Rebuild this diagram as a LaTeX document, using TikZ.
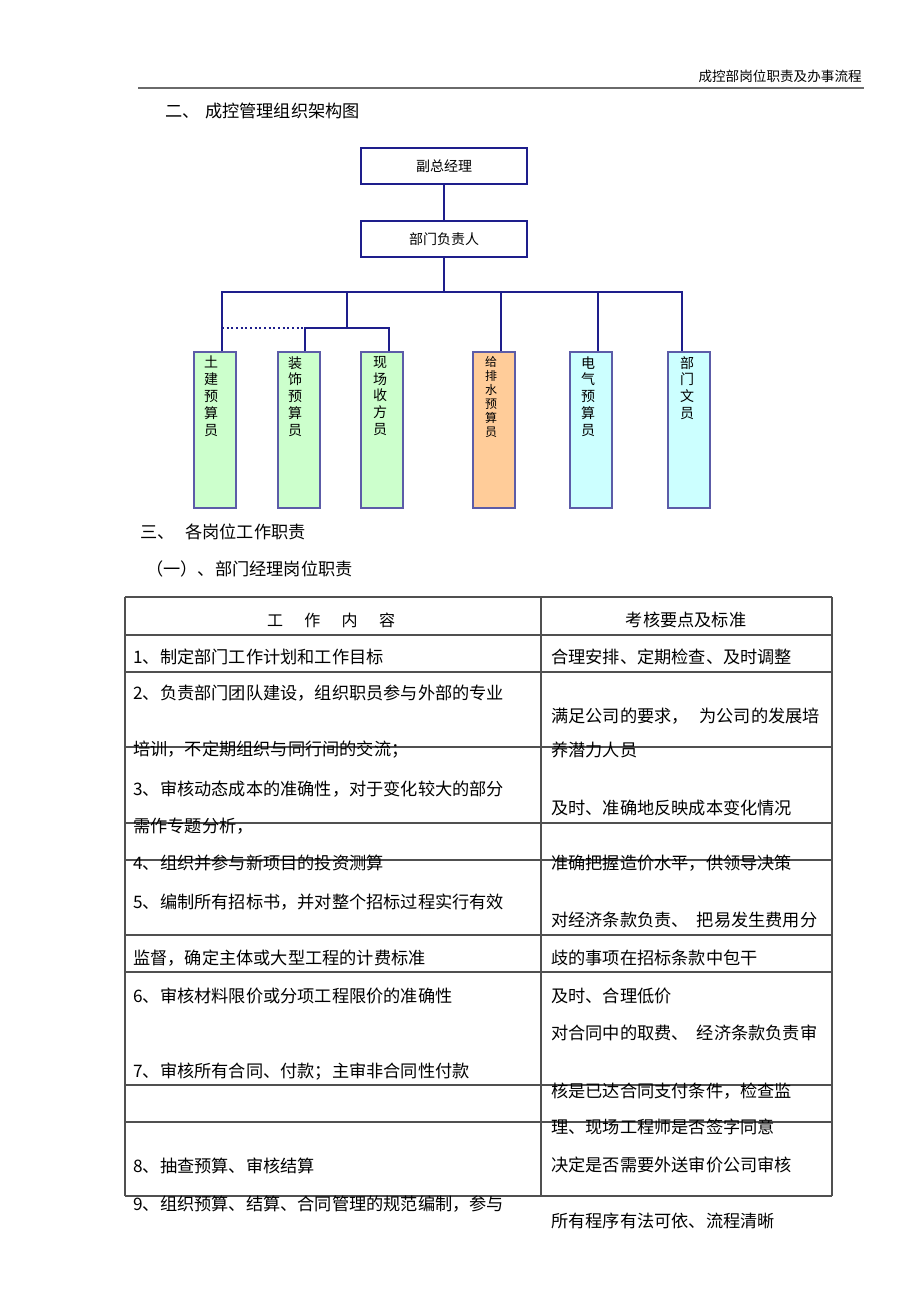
\documentclass[tikz,border=0pt]{standalone}
\usepackage{fontspec}
\setmainfont{Noto Sans CJK SC}
\definecolor{navy}{HTML}{1E1E8C}
\definecolor{boxb}{HTML}{5C5CA8}
\definecolor{gfill}{HTML}{CCFFCC}
\definecolor{ofill}{HTML}{FFCC99}
\definecolor{cfill}{HTML}{CCFFFF}
\definecolor{tline}{HTML}{505050}
\definecolor{rulec}{HTML}{6A6A6A}
\tikzset{
  topbox/.style={draw=navy, line width=2pt, minimum width=124.5pt, minimum height=27pt, inner sep=0pt, font=\fontsize{10.5}{12}\selectfont},
  staff/.style={draw=boxb, line width=0.9pt, minimum width=31.5pt, minimum height=117pt, inner sep=0pt},
  stafftext/.style={anchor=north, align=center, inner sep=0pt, font=\fontsize{10.5}{12.6}\selectfont},
  conn/.style={draw=navy, line width=1.5pt},
  tl/.style={draw=tline, line width=0.9pt},
  cell/.style={anchor=west, inner sep=0pt, font=\fontsize{12.9}{14}\selectfont},
  heading/.style={anchor=west, inner sep=0pt, font=\fontsize{12.9}{14}\selectfont},
}
\begin{document}
\begin{tikzpicture}[x=0.75pt,y=-0.75pt]
\useasboundingbox[fill=white] (0,0) rectangle (920,1303);
% page header
\node[anchor=east, inner sep=0pt, font=\fontsize{10.2}{12}\selectfont] (hdr) at (862,76) {成控部岗位职责及办事流程};
\draw[draw=rulec, line width=1.3pt] (138,88) -- (864,88);
\node[heading] (sec2) at (165,111) {二、\hspace{4pt}成控管理组织架构图};

% org chart boxes
\node[topbox] (vp) at (444,166) {副总经理};
\node[topbox] (head) at (444,239) {部门负责人};

\node[staff, fill=gfill] (tj) at (215,430) {};
\node[staff, fill=gfill] (zs) at (299,430) {};
\node[staff, fill=gfill] (xc) at (382,430) {};
\node[staff, fill=ofill] (gp) at (494,430) {};
\node[staff, fill=cfill] (dq) at (591,430) {};
\node[staff, fill=cfill] (wy) at (689,430) {};

\node[stafftext] (tjt) at (211,356) {土\\建\\预\\算\\员};
\node[stafftext] (zst) at (295,356) {装\\饰\\预\\算\\员};
\node[stafftext] (xct) at (380,356) {现\\场\\收\\方\\员};
\node[stafftext, font=\fontsize{9}{10.5}\selectfont] (gpt) at (491,356) {给\\排\\水\\预\\算\\员};
\node[stafftext] (dqt) at (588,356) {电\\气\\预\\算\\员};
\node[stafftext] (wyt) at (687,356) {部\\门\\文\\员};

% connectors
\coordinate (bL) at (222,292);
\coordinate (bR) at (682,292);
\coordinate (sj) at (347,292);
\coordinate (sk) at (347,328);
\coordinate (sL) at (305,328);
\coordinate (sR) at (389,328);
\coordinate (gj) at (501,292);
\coordinate (dj) at (598,292);
\draw[conn] (vp.south) -- (head.north);
\draw[conn] (head.south) -- (head.south |- bL);
\draw[conn] (tj.north -| bL) -- (bL) -- (bR) -- (wy.north -| bR);
\draw[conn] (sj) -- (sk);
\draw[conn] (zs.north -| sL) -- (sL) -- (sR) -- (xc.north -| sR);
\draw[conn, dotted] (bL |- sL) -- (sL);
\draw[conn] (gj) -- (gp.north -| gj);
\draw[conn] (dj) -- (dq.north -| dj);

% section headings
\node[heading] (sec3) at (140,532) {三、\hspace{8pt}各岗位工作职责};
\node[heading] (sec31) at (146,569) {（一）、部门经理岗位职责};

% table grid
\draw[tl] (125,597) -- (125,1196);
\draw[tl] (541,597) -- (541,1196);
\draw[tl] (832,597) -- (832,1196);
\foreach \yy in {597,635,672,747,823,860,935,972,1085,1122,1196}
  \draw[tl] (125,\yy) -- (832,\yy);

% table header
\node[inner sep=0pt, font=\fontsize{12}{14}\selectfont] (h1) at (331,620) {工\hspace{16pt}作\hspace{16pt}内\hspace{16pt}容};
\node[inner sep=0pt, font=\fontsize{12.9}{14}\selectfont] (h2) at (686,620) {考核要点及标准};

% left column
\node[cell] (l1) at (133,657) {1、制定部门工作计划和工作目标};
\node[cell] (l2) at (133,693) {2、负责部门团队建设，组织职员参与外部的专业};
\node[cell] (l2b) at (133,750) {培训，不定期组织与同行间的交流；};
\node[cell] (l3) at (133,789) {3、审核动态成本的准确性，对于变化较大的部分};
\node[cell] (l3b) at (133,826) {需作专题分析，};
\node[cell] (l4) at (133,863) {4、组织并参与新项目的投资测算};
\node[cell] (l5) at (133,902) {5、编制所有招标书，并对整个招标过程实行有效};
\node[cell] (l5b) at (133,958) {监督，确定主体或大型工程的计费标准};
\node[cell] (l6) at (133,996) {6、审核材料限价或分项工程限价的准确性};
\node[cell] (l7) at (133,1072) {7、审核所有合同、付款；主审非合同性付款};
\node[cell] (l8) at (133,1166) {8、抽查预算、审核结算};
\node[cell] (l9) at (133,1204) {9、组织预算、结算、合同管理的规范编制，参与};

% right column
\node[cell] (r1) at (551,657) {合理安排、定期检查、及时调整};
\node[cell] (r2) at (551,716) {满足公司的要求，\hspace{8pt}为公司的发展培};
\node[cell] (r2b) at (551,750) {养潜力人员};
\node[cell] (r3) at (551,808) {及时、准确地反映成本变化情况};
\node[cell] (r4) at (551,863) {准确把握造价水平，供领导决策};
\node[cell] (r5) at (551,920) {对经济条款负责、\hspace{6pt}把易发生费用分};
\node[cell] (r5b) at (551,958) {歧的事项在招标条款中包干};
\node[cell] (r6) at (551,996) {及时、合理低价};
\node[cell] (r7) at (551,1033) {对合同中的取费、\hspace{6pt}经济条款负责审};
\node[cell] (r7b) at (551,1091) {核是已达合同支付条件，检查监};
\node[cell] (r7c) at (551,1127) {理、现场工程师是否签字同意};
\node[cell] (r8) at (551,1165) {决定是否需要外送审价公司审核};
\node[cell] (r9) at (551,1221) {所有程序有法可依、流程清晰};
\end{tikzpicture}
\end{document}
